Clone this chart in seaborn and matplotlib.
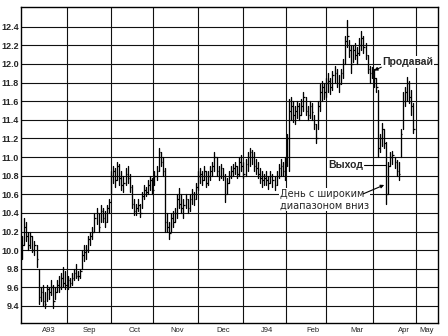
import numpy as np
import pandas as pd
import matplotlib
matplotlib.use("Agg")
import matplotlib.pyplot as plt
import seaborn as sns

# ---- data ----
highs = [
    10.15, 10.35, 10.30, 10.20, 10.20, 10.15, 10.10, 10.05, 9.80, 9.60,
    9.62, 9.55, 9.62, 9.60, 9.68, 9.62, 9.60, 9.68, 9.72, 9.75,
    9.82, 9.78, 9.72, 9.70, 9.75, 9.80, 9.85, 9.78, 9.80, 10.00,
    10.05, 10.05, 10.15, 10.20, 10.25, 10.40, 10.45, 10.40, 10.48, 10.45,
    10.42, 10.48, 10.55, 10.85, 10.90, 10.88, 10.95, 10.92, 10.85, 10.80,
    10.88, 10.90, 10.82, 10.70, 10.55, 10.50, 10.55, 10.50, 10.62, 10.70,
    10.68, 10.75, 10.80, 10.78, 10.85, 10.90, 11.10, 11.05, 11.00, 10.88,
    10.40, 10.30, 10.40, 10.42, 10.45, 10.60, 10.67, 10.60, 10.55, 10.60,
    10.55, 10.60, 10.66, 10.62, 10.72, 10.85, 10.88, 10.85, 10.90, 10.85,
    10.85, 10.90, 10.95, 11.05, 11.00, 10.90, 10.92, 10.88, 10.82, 10.78,
    10.85, 10.90, 10.92, 10.95, 10.90, 11.00, 11.02, 10.95, 10.98, 11.05,
    11.10, 11.08, 11.05, 10.98, 10.95, 10.88, 10.85, 10.82, 10.85, 10.80,
    10.85, 10.82, 10.80, 10.85, 10.92, 10.98, 10.95, 11.00, 11.25, 11.62,
    11.65, 11.60, 11.55, 11.60, 11.58, 11.62, 11.70, 11.65, 11.55, 11.60,
    11.58, 11.45, 11.35, 11.60, 11.78, 11.82, 11.80, 11.85, 11.90, 11.85,
    11.92, 11.98, 11.95, 11.88, 11.95, 12.05, 12.30, 12.47, 12.26, 12.20,
    12.20, 12.22, 12.18, 12.28, 12.35, 12.30, 12.22, 12.10, 11.98, 11.97,
    11.95, 11.85, 11.72, 11.25, 11.37, 11.30, 11.16, 10.95, 11.05, 11.07,
    11.00, 10.97, 10.95, 11.30, 11.70, 11.75, 11.86, 11.82, 11.72, 11.58,
]
lows = [
    9.90, 10.05, 10.10, 10.00, 10.02, 9.98, 9.95, 9.82, 9.42, 9.45,
    9.40, 9.38, 9.45, 9.48, 9.52, 9.38, 9.48, 9.55, 9.55, 9.58,
    9.60, 9.58, 9.58, 9.60, 9.62, 9.68, 9.70, 9.68, 9.70, 9.80,
    9.88, 9.90, 9.98, 10.05, 10.12, 10.20, 10.28, 10.20, 10.30, 10.30,
    10.25, 10.30, 10.40, 10.60, 10.72, 10.68, 10.75, 10.70, 10.65, 10.62,
    10.70, 10.72, 10.62, 10.45, 10.38, 10.38, 10.42, 10.36, 10.45, 10.55,
    10.58, 10.60, 10.65, 10.60, 10.70, 10.75, 10.85, 10.90, 10.80, 10.20,
    10.20, 10.12, 10.20, 10.25, 10.30, 10.35, 10.45, 10.40, 10.35, 10.45,
    10.40, 10.42, 10.50, 10.48, 10.55, 10.65, 10.72, 10.70, 10.75, 10.68,
    10.70, 10.75, 10.80, 10.85, 10.80, 10.75, 10.78, 10.75, 10.52, 10.60,
    10.72, 10.78, 10.80, 10.82, 10.78, 10.80, 10.85, 10.78, 10.80, 10.85,
    10.90, 10.92, 10.85, 10.82, 10.78, 10.72, 10.68, 10.70, 10.70, 10.66,
    10.72, 10.68, 10.65, 10.70, 10.78, 10.80, 10.80, 10.75, 10.90, 10.85,
    11.40, 11.38, 11.35, 11.42, 11.40, 11.45, 11.50, 11.45, 11.40, 11.42,
    11.40, 11.30, 11.15, 11.30, 11.50, 11.60, 11.62, 11.65, 11.70, 11.68,
    11.72, 11.80, 11.75, 11.70, 11.78, 11.85, 12.00, 12.18, 12.08, 11.90,
    12.02, 12.05, 12.00, 12.10, 12.15, 12.12, 12.05, 11.90, 11.80, 11.85,
    11.75, 11.70, 11.00, 11.05, 11.12, 11.10, 10.50, 10.60, 10.90, 10.92,
    10.88, 10.80, 10.75, 11.00, 11.30, 11.55, 11.60, 11.58, 11.45, 11.26,
]
closes = [
    10.05, 10.25, 10.15, 10.05, 10.15, 10.00, 10.05, 9.90, 9.50, 9.55,
    9.45, 9.42, 9.58, 9.55, 9.60, 9.45, 9.55, 9.62, 9.60, 9.70,
    9.65, 9.62, 9.68, 9.65, 9.70, 9.75, 9.72, 9.72, 9.78, 9.95,
    9.98, 10.00, 10.12, 10.15, 10.20, 10.35, 10.40, 10.25, 10.42, 10.35,
    10.30, 10.45, 10.52, 10.80, 10.85, 10.75, 10.90, 10.78, 10.70, 10.72,
    10.82, 10.78, 10.68, 10.50, 10.42, 10.45, 10.48, 10.40, 10.58, 10.65,
    10.62, 10.70, 10.75, 10.65, 10.80, 10.85, 11.05, 10.95, 10.85, 10.30,
    10.25, 10.18, 10.35, 10.30, 10.40, 10.55, 10.50, 10.45, 10.48, 10.55,
    10.45, 10.55, 10.60, 10.55, 10.68, 10.80, 10.82, 10.75, 10.85, 10.72,
    10.80, 10.85, 10.90, 11.00, 10.85, 10.80, 10.88, 10.80, 10.60, 10.72,
    10.80, 10.85, 10.88, 10.90, 10.82, 10.95, 10.90, 10.82, 10.92, 11.00,
    11.05, 11.00, 10.90, 10.88, 10.82, 10.78, 10.75, 10.78, 10.75, 10.72,
    10.80, 10.75, 10.70, 10.80, 10.88, 10.90, 10.85, 10.95, 11.20, 11.50,
    11.55, 11.45, 11.50, 11.55, 11.45, 11.55, 11.65, 11.50, 11.45, 11.55,
    11.48, 11.35, 11.20, 11.55, 11.70, 11.75, 11.70, 11.80, 11.82, 11.75,
    11.88, 11.90, 11.80, 11.78, 11.90, 12.00, 12.25, 12.30, 12.15, 12.00,
    12.15, 12.10, 12.12, 12.20, 12.28, 12.18, 12.10, 11.95, 11.90, 11.92,
    11.85, 11.75, 11.10, 11.20, 11.30, 11.15, 10.60, 10.90, 11.00, 11.02,
    10.95, 10.85, 10.82, 11.25, 11.60, 11.70, 11.80, 11.65, 11.55, 11.30,
]
month_labels = ["A93", "Sep", "Oct", "Nov", "Dec", "J94", "Feb", "Mar", "Apr", "May"]
month_bounds = [21.7, 43.0, 63.3, 85.0, 106.8, 127.5, 146.9, 169.6, 190.4]
label_pos = [13.0, 32.5, 54.5, 75.0, 97.0, 118.3, 140.5, 162.0, 184.5, 195.7]
y_ticks = [9.4, 9.6, 9.8, 10.0, 10.2, 10.4, 10.6, 10.8, 11.0, 11.2,
           11.4, 11.6, 11.8, 12.0, 12.2, 12.4]

days = np.arange(len(highs))
long_df = pd.DataFrame({
    "day": np.concatenate([days, days]),
    "price": np.concatenate([lows, highs]),
}).sort_values(["day", "price"])

sns.set_style("white")
plt.rcParams["font.family"] = ["DejaVu Sans"]

fig = plt.figure(figsize=(4.48, 3.36), dpi=100)
ax = fig.add_axes([21 / 448, 13 / 336, 417 / 448, 316 / 336])

# grid
for yv in y_ticks:
    ax.axhline(yv, color="#111111", lw=0.8, zorder=1)
for xb in month_bounds:
    ax.axvline(xb, color="#111111", lw=0.8, zorder=1)

sns.lineplot(data=long_df, x="day", y="price", units="day", estimator=None,
             color="black", lw=0.95, sort=False, ax=ax, legend=False, zorder=3)
ax.hlines(closes, days, days + 0.8, color="black", lw=0.9, zorder=3)

ax.set_xlim(-0.5, 201)
ax.set_ylim(9.217, 12.612)
ax.set_xlabel("")
ax.set_ylabel("")

ax.set_yticks(y_ticks)
ax.set_yticklabels([f"{v:.1f}" for v in y_ticks], fontfamily="Liberation Sans",
                   fontweight="bold", fontsize=6.5)
ax.tick_params(axis="y", length=0, pad=1.5)

ax.set_xticks(month_bounds)
ax.set_xticklabels([])
ax.set_xticks(np.arange(1.7, 200, 5.0), minor=True)
ax.tick_params(axis="x", which="both", direction="inout", length=5, width=0.8,
               color="black")
for lab, pos in zip(month_labels, label_pos):
    ax.text(pos, -0.012, lab, transform=ax.get_xaxis_transform(), ha="center",
            va="top", fontsize=5.5, fontfamily="Liberation Sans")

for sp in ax.spines.values():
    sp.set_visible(True)
    sp.set_color("black")
    sp.set_linewidth(1.0)

# annotations
box = dict(fc="white", ec="none", pad=0.6)
ax.text(174.0, 12.02, "Продавай", fontweight="bold", fontsize=7.5,
        fontfamily="Liberation Sans", ha="left", va="center", bbox=box, zorder=5)
ax.annotate("", xy=(170.1, 11.93), xytext=(173.6, 11.965),
            arrowprops=dict(arrowstyle="-|>", lw=0.8, color="black",
                            mutation_scale=5, shrinkA=0, shrinkB=0), zorder=5)

ax.text(147.8, 10.916, "Выход", fontweight="bold", fontsize=7.5,
        fontfamily="Liberation Sans", ha="left", va="center", bbox=box, zorder=5)
ax.plot([165.2, 175.9], [10.916, 10.916], color="black", lw=0.8, zorder=5)

ax.text(124.6, 10.54, "День с широким\nдиапазоном вниз", fontsize=7,
        ha="left", va="center", linespacing=1.15, bbox=box, zorder=5)
ax.annotate("", xy=(175.0, 10.70), xytext=(164.8, 10.604),
            arrowprops=dict(arrowstyle="-|>", lw=0.8, color="black",
                            mutation_scale=5, shrinkA=0, shrinkB=0), zorder=5)

fig.savefig("out.png", dpi=100)
